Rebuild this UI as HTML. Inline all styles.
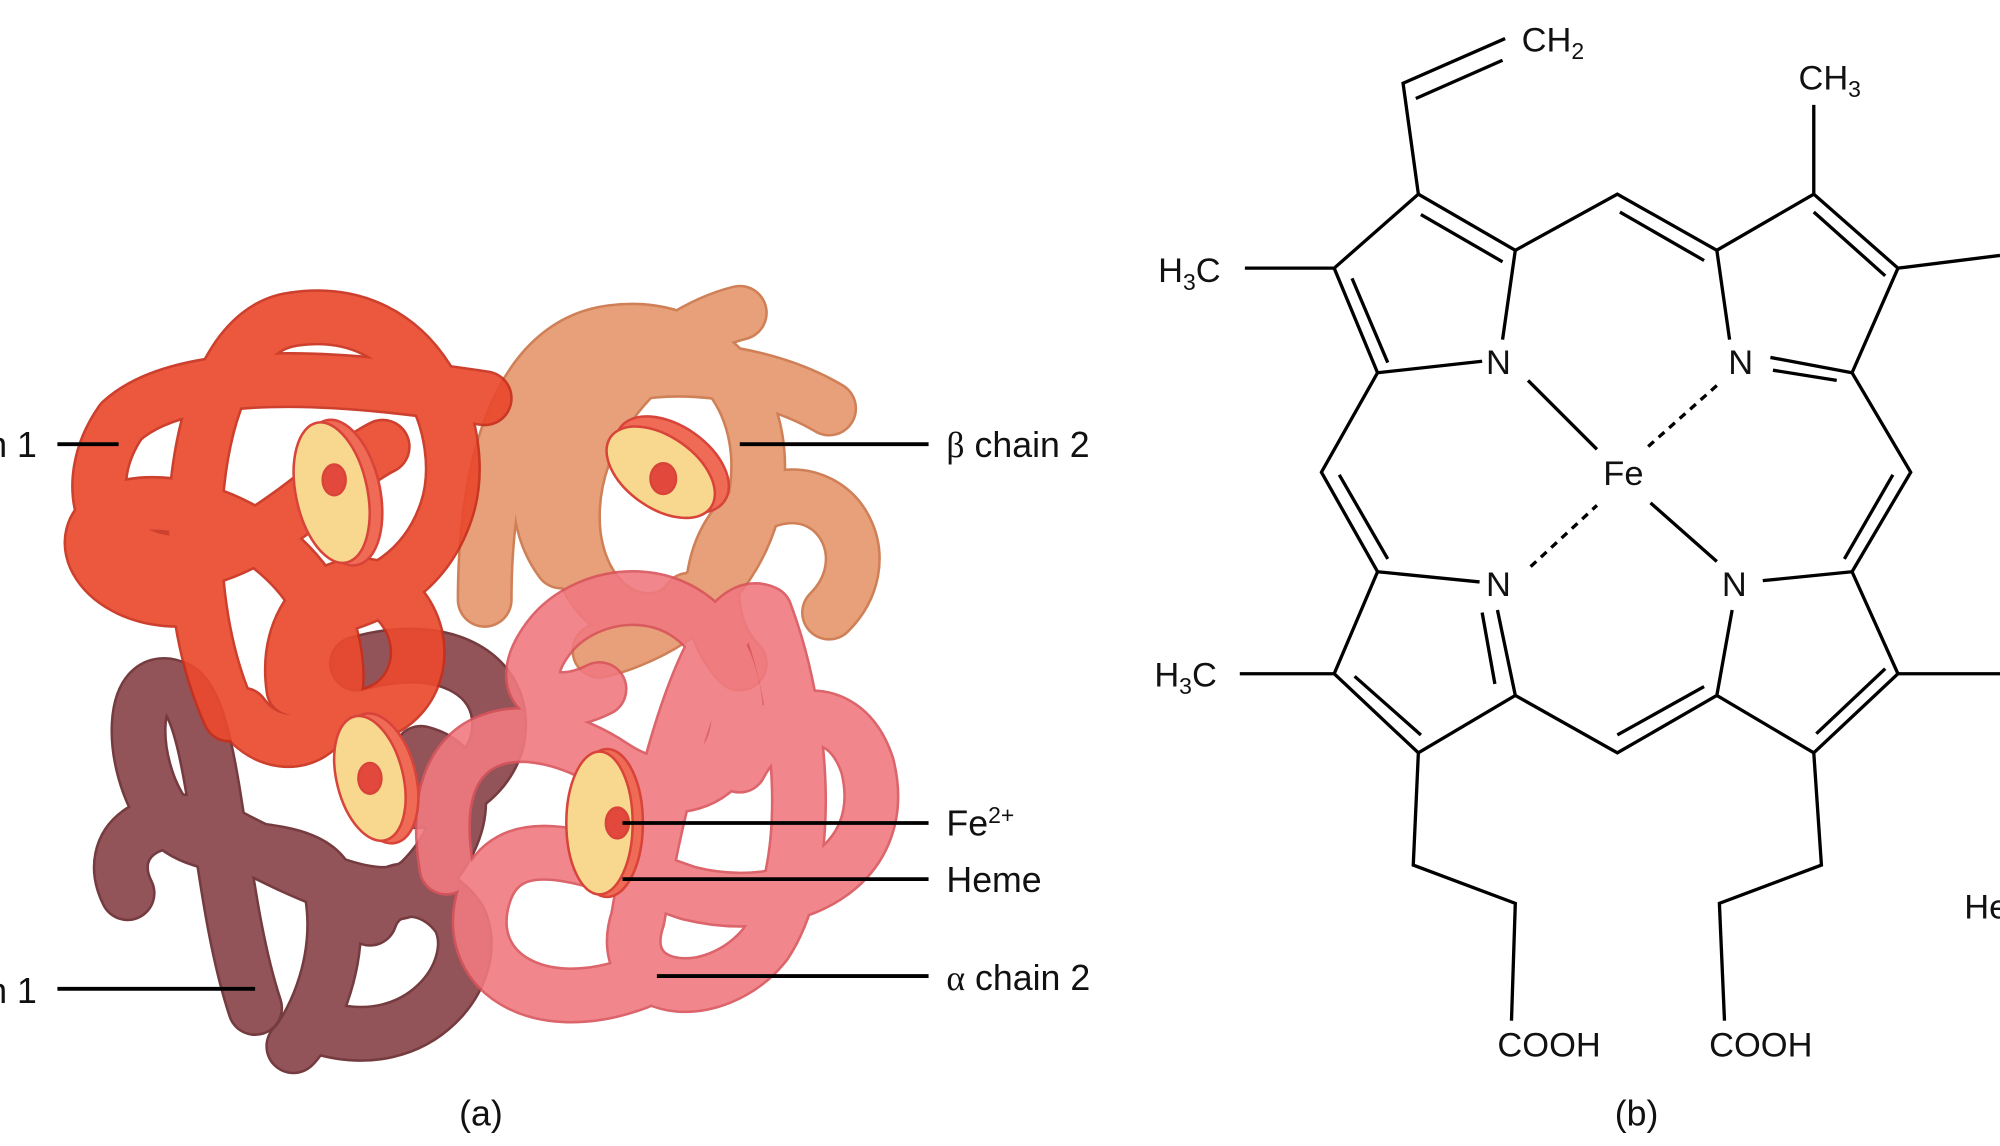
<!DOCTYPE html>
<html><head><meta charset="utf-8"><style>
html,body{margin:0;padding:0;background:#fff;}
svg{display:block;}
text{font-family:"Liberation Sans",sans-serif;fill:#111;}
</style></head><body>
<svg width="2000" height="1146" viewBox="0 0 1568 898" xmlns="http://www.w3.org/2000/svg">
<rect width="1568" height="898" fill="#fff"/>
<g fill="none" stroke-linecap="round" stroke-linejoin="round">
<g opacity="0.85">
<g stroke="#c86a3a" stroke-width="44">
<path d="M 650 320 C 600 290 520 280 470 300 C 420 330 410 400 440 440"/>
<path d="M 380 470 C 380 380 400 270 480 260 C 560 250 610 320 590 400 C 570 470 510 500 470 510"/>
<path d="M 580 245 C 520 260 440 330 450 420 C 460 490 520 500 540 470"/>
<path d="M 580 520 C 540 480 560 400 610 390 C 660 380 690 440 650 480"/>
</g>
<g stroke="#e39062" stroke-width="40">
<path d="M 650 320 C 600 290 520 280 470 300 C 420 330 410 400 440 440"/>
<path d="M 380 470 C 380 380 400 270 480 260 C 560 250 610 320 590 400 C 570 470 510 500 470 510"/>
<path d="M 580 245 C 520 260 440 330 450 420 C 460 490 520 500 540 470"/>
<path d="M 580 520 C 540 480 560 400 610 390 C 660 380 690 440 650 480"/>
</g></g>
<g opacity="0.95">
<g stroke="#6e3236" stroke-width="44">
<path d="M 200 790 C 170 700 170 560 140 540 C 100 520 100 600 130 640 C 160 680 250 650 260 700 C 270 760 240 810 230 820"/>
<path d="M 100 700 C 80 660 120 630 170 650 C 230 680 300 720 330 690 C 370 650 370 600 330 590"/>
<path d="M 280 520 C 350 500 400 530 390 580 C 380 620 330 640 300 620"/>
<path d="M 250 805 C 330 830 380 760 360 720 C 340 690 300 690 290 720"/>
</g>
<g stroke="#8d4b51" stroke-width="40">
<path d="M 200 790 C 170 700 170 560 140 540 C 100 520 100 600 130 640 C 160 680 250 650 260 700 C 270 760 240 810 230 820"/>
<path d="M 100 700 C 80 660 120 630 170 650 C 230 680 300 720 330 690 C 370 650 370 600 330 590"/>
<path d="M 280 520 C 350 500 400 530 390 580 C 380 620 330 640 300 620"/>
<path d="M 250 805 C 330 830 380 760 360 720 C 340 690 300 690 290 720"/>
</g></g>
<g opacity="0.92">
<g stroke="#c8301c" stroke-width="44">
<path d="M 380 312 C 300 300 150 280 95 330 C 60 380 80 440 140 440 C 200 440 260 370 300 350"/>
<path d="M 180 560 C 130 450 150 260 230 250 C 330 235 370 340 350 400 C 330 460 280 470 250 480"/>
<path d="M 140 470 C 80 470 50 420 90 400 C 140 380 240 420 260 500 C 280 580 220 600 190 560"/>
<path d="M 230 540 C 220 470 280 440 310 470 C 340 500 330 550 290 560"/>
</g>
<g stroke="#ea4a2e" stroke-width="40">
<path d="M 380 312 C 300 300 150 280 95 330 C 60 380 80 440 140 440 C 200 440 260 370 300 350"/>
<path d="M 180 560 C 130 450 150 260 230 250 C 330 235 370 340 350 400 C 330 460 280 470 250 480"/>
<path d="M 140 470 C 80 470 50 420 90 400 C 140 380 240 420 260 500 C 280 580 220 600 190 560"/>
<path d="M 230 540 C 220 470 280 440 310 470 C 340 500 330 550 290 560"/>
</g></g>
<g opacity="0.9">
<g stroke="#d9545c" stroke-width="44">
<path d="M 350 680 C 330 560 420 560 480 600 C 540 640 600 600 570 520 C 540 450 460 460 430 500 C 400 540 430 560 470 540"/>
<path d="M 500 770 C 420 800 360 760 380 700 C 400 640 480 680 540 700 C 620 720 700 680 680 600 C 660 540 600 560 580 600"/>
<path d="M 600 480 C 560 460 520 600 500 720 C 480 780 560 790 600 740 C 640 680 630 560 600 480"/>
</g>
<g stroke="#f07a80" stroke-width="40">
<path d="M 350 680 C 330 560 420 560 480 600 C 540 640 600 600 570 520 C 540 450 460 460 430 500 C 400 540 430 560 470 540"/>
<path d="M 500 770 C 420 800 360 760 380 700 C 400 640 480 680 540 700 C 620 720 700 680 680 600 C 660 540 600 560 580 600"/>
<path d="M 600 480 C 560 460 520 600 500 720 C 480 780 560 790 600 740 C 640 680 630 560 600 480"/>
</g></g>
</g>
<g stroke="#d9443a" stroke-width="2">
<ellipse cx="268" cy="386" rx="30" ry="58" transform="rotate(-12 268 386)" fill="#ef6b55"/>
<ellipse cx="260" cy="386" rx="28" ry="56" transform="rotate(-12 260 386)" fill="#f8d88e"/>
<ellipse cx="262" cy="376" rx="9" ry="12" fill="#e2493c"/>
<ellipse cx="527" cy="364" rx="50" ry="30" transform="rotate(35 527 364)" fill="#ef6b55"/>
<ellipse cx="518" cy="370" rx="48" ry="28" transform="rotate(35 518 370)" fill="#f8d88e"/>
<ellipse cx="520" cy="375" rx="10" ry="12" fill="#e2493c"/>
<ellipse cx="298" cy="610" rx="28" ry="52" transform="rotate(-14 298 610)" fill="#ef6b55"/>
<ellipse cx="290" cy="610" rx="26" ry="50" transform="rotate(-14 290 610)" fill="#f8d88e"/>
<ellipse cx="290" cy="610" rx="9" ry="12" fill="#e2493c"/>
<ellipse cx="476" cy="645" rx="28" ry="58" fill="#ef6b55"/>
<ellipse cx="470" cy="645" rx="26" ry="56" fill="#f8d88e"/>
<ellipse cx="484" cy="645" rx="9" ry="12" fill="#e2493c"/>
</g>
<g stroke="#000" stroke-width="3">
<line x1="45" y1="348" x2="93" y2="348"/>
<line x1="580" y1="348" x2="728" y2="348"/>
<line x1="488" y1="645" x2="728" y2="645"/>
<line x1="488" y1="689" x2="728" y2="689"/>
<line x1="515" y1="765" x2="728" y2="765"/>
<line x1="45" y1="775" x2="200" y2="775"/>
</g>
<g font-size="28">
<text x="-10" y="358">n 1</text>
<text x="742" y="358"><tspan font-family="Liberation Serif">β</tspan> chain 2</text>
<text x="742" y="655">Fe<tspan font-size="18" dy="-10">2+</tspan></text>
<text x="742" y="699">Heme</text>
<text x="742" y="776"><tspan font-family="Liberation Serif">α</tspan> chain 2</text>
<text x="-10" y="786">n 1</text>
<text x="360" y="882">(a)</text>
<text x="1266" y="882">(b)</text>
</g>
<g stroke="#000" stroke-width="2.6" fill="none" stroke-linecap="butt">
<path d="M1180 30 L1100 65 L1112 152"/>
<line x1="1110" y1="77" x2="1178" y2="47"/>
<line x1="1422" y1="82" x2="1422" y2="152"/>
<path d="M1188 196 L1112 152 L1046 210 L1080 292 L1162 283"/>
<line x1="1188" y1="196" x2="1178" y2="266"/>
<line x1="1114" y1="168" x2="1178" y2="205"/>
<line x1="1060" y1="218" x2="1088" y2="284"/>
<line x1="976" y1="210" x2="1046" y2="210"/>
<path d="M1188 196 L1268 152 L1346 196"/>
<line x1="1270" y1="166" x2="1336" y2="204"/>
<path d="M1356 266 L1346 196 L1422 152 L1488 210 L1452 292"/>
<line x1="1422" y1="166" x2="1478" y2="216"/>
<line x1="1388" y1="280" x2="1452" y2="292"/>
<line x1="1390" y1="290" x2="1440" y2="298"/>
<line x1="1488" y1="210" x2="1568" y2="200"/>
<path d="M1080 292 L1036 370 L1080 448"/>
<line x1="1050" y1="372" x2="1088" y2="438"/>
<path d="M1452 292 L1498 370 L1452 448"/>
<line x1="1484" y1="372" x2="1446" y2="438"/>
<path d="M1160 456 L1080 448 L1046 528 L1112 590 L1188 545 L1174 478"/>
<line x1="1162" y1="480" x2="1172" y2="536"/>
<line x1="1062" y1="530" x2="1114" y2="576"/>
<line x1="972" y1="528" x2="1046" y2="528"/>
<path d="M1188 545 L1268 590 L1346 545"/>
<line x1="1268" y1="576" x2="1336" y2="538"/>
<path d="M1358 478 L1346 545 L1422 590 L1488 528 L1452 448 L1382 455"/>
<line x1="1424" y1="575" x2="1478" y2="524"/>
<line x1="1488" y1="528" x2="1568" y2="528"/>
<path d="M1112 590 L1108 678 L1188 708 L1185 800"/>
<path d="M1422 590 L1428 678 L1348 708 L1352 800"/>
<line x1="1198" y1="298" x2="1252" y2="352"/>
<line x1="1294" y1="394" x2="1346" y2="440"/>
<line x1="1346" y1="302" x2="1292" y2="350" stroke-dasharray="6,5"/>
<line x1="1200" y1="444" x2="1252" y2="396" stroke-dasharray="6,5"/>
</g>
<g font-size="27">
<text x="1193" y="40">CH<tspan font-size="18" dy="6">2</tspan></text>
<text x="1410" y="70">CH<tspan font-size="18" dy="6">3</tspan></text>
<text x="908" y="221">H<tspan font-size="18" dy="6">3</tspan><tspan dy="-6">C</tspan></text>
<text x="905" y="538">H<tspan font-size="18" dy="6">3</tspan><tspan dy="-6">C</tspan></text>
<text x="1165" y="293">N</text>
<text x="1355" y="293">N</text>
<text x="1165" y="467">N</text>
<text x="1350" y="467">N</text>
<text x="1257" y="380">Fe</text>
<text x="1174" y="828">COOH</text>
<text x="1340" y="828">COOH</text>
<text x="1540" y="720">He</text>
</g>
</svg>
</body></html>
